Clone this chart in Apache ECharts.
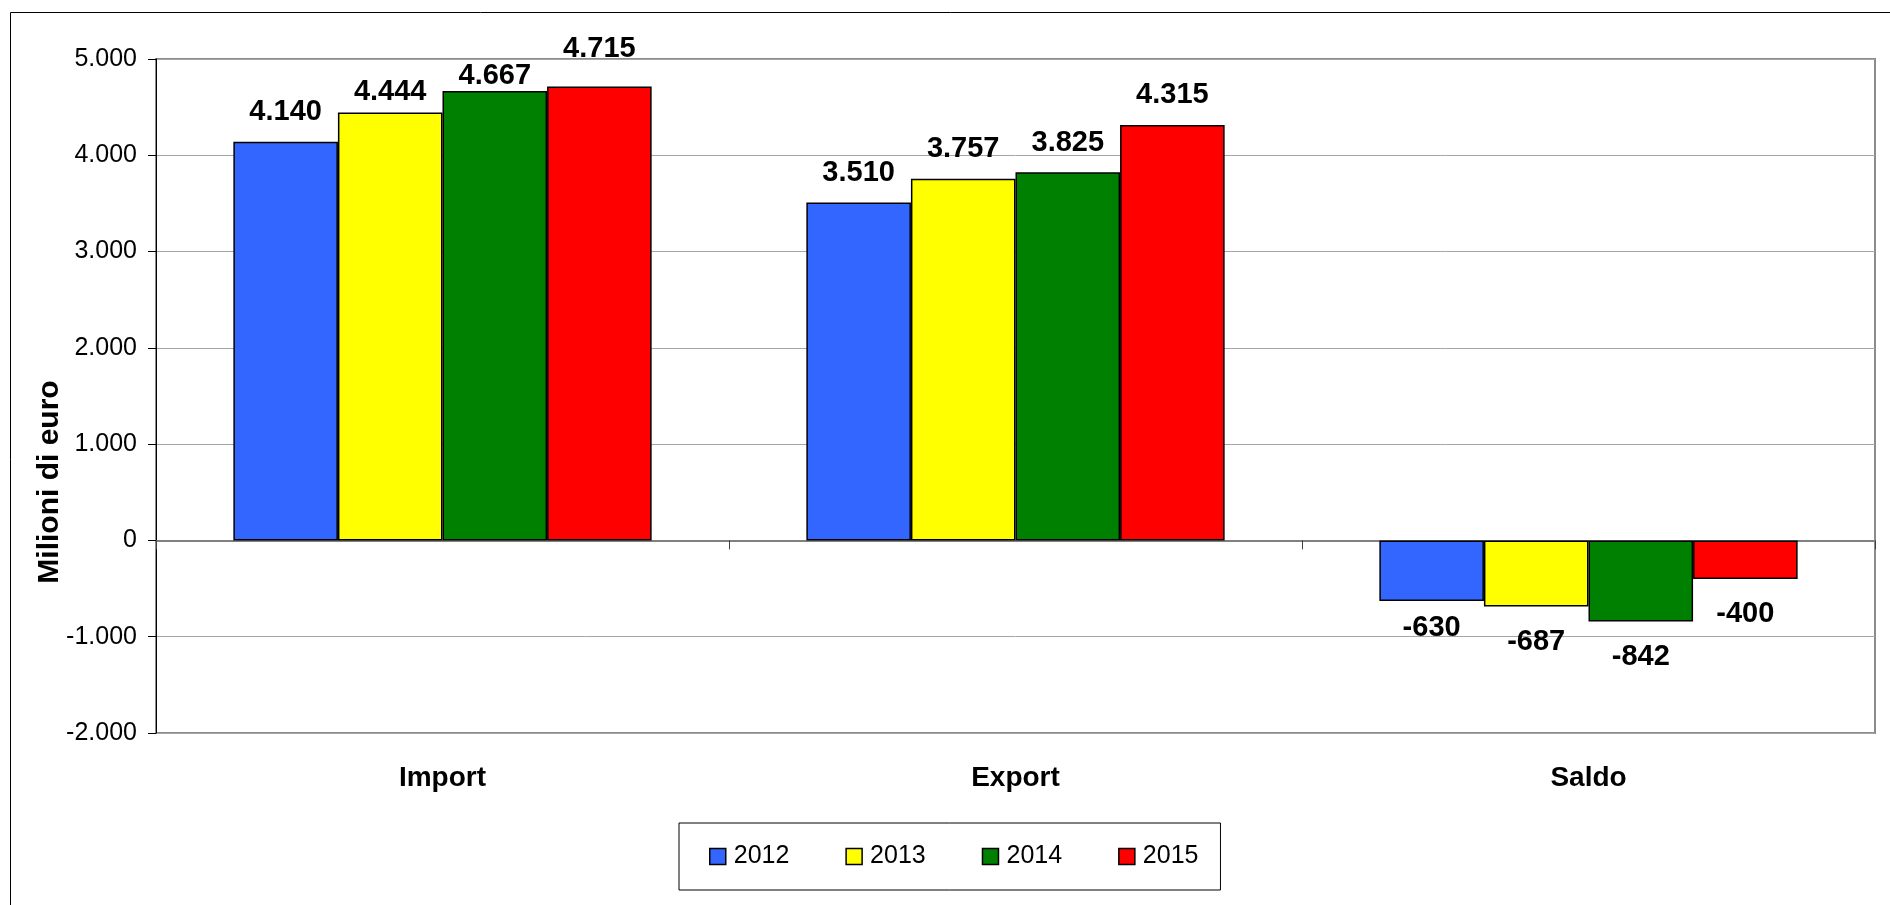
<!DOCTYPE html>
<html>
<head>
<meta charset="utf-8">
<script src="https://cdn.jsdelivr.net/npm/echarts@6/dist/echarts.min.js"></script>
<style>
html,body{margin:0;padding:0;background:#fff;}
#chart{width:1890px;height:905px;}
</style>
</head>
<body>
<div id="chart"></div>
<script>
const categories = ['Import', 'Export', 'Saldo'];
const years = ['2012', '2013', '2014', '2015'];
const values2012 = [4140, 3510, -630];
const values2013 = [4444, 3757, -687];
const values2014 = [4667, 3825, -842];
const values2015 = [4715, 4315, -400];
const yMin = -2000, yMax = 5000, yStep = 1000;
const axisTitle = 'Milioni di euro';

const seriesValues = [values2012, values2013, values2014, values2015];
const colors = ['#3366FF', '#FFFF00', '#008000', '#FF0000'];
const FONT = "'Liberation Sans', Arial, sans-serif";
const GRID = { left: 156, right: 15, top: 59, bottom: 172 };
const CHART_H = 905;
// label nudges (pixels) to mimic the reference placement
const labelNudge = { '1-0': 9, '2-0': 14, '3-0': -8, '0-2': -9 };

function fmt(v) {
  const s = Math.abs(v).toString().replace(/\B(?=(\d{3})+(?!\d))/g, '.');
  return (v < 0 ? '-' : '') + s;
}

const gridH = CHART_H - GRID.top - GRID.bottom;
const zeroFromTop = gridH * (yMax - 0) / (yMax - yMin);

const series = seriesValues.map((vals, si) => ({
  name: years[si],
  type: 'bar',
  xAxisIndex: 0,
  barGap: '0%',
  barCategoryGap: '27%',
  itemStyle: { color: colors[si], borderColor: '#000', borderWidth: 1.5 },
  label: {
    show: true,
    position: 'top',
    distance: 15,
    fontFamily: FONT,
    fontSize: 29,
    fontWeight: 'bold',
    color: '#000',
    formatter: p => fmt(p.value)
  },
  data: vals.map((v, ci) => {
    const nudge = labelNudge[si + '-' + ci] || 0;
    const item = { value: v };
    if (v < 0) {
      item.label = { position: 'bottom', distance: 21, offset: [0, nudge] };
    } else if (nudge) {
      item.label = { offset: [0, nudge] };
    }
    return item;
  })
}));

const chart = echarts.init(document.getElementById('chart'), null, { renderer: 'canvas' });
chart.setOption({
  animation: false,
  backgroundColor: '#fff',
  textStyle: { fontFamily: FONT },
  grid: {
    left: GRID.left, right: GRID.right, top: GRID.top, bottom: GRID.bottom,
    show: true, borderColor: '#8c8c8c', borderWidth: 2, backgroundColor: 'transparent'
  },
  legend: {
    data: years,
    left: 679,
    top: 823,
    orient: 'horizontal',
    padding: [21, 22, 21, 30],
    borderColor: '#000',
    borderWidth: 1,
    itemWidth: 16,
    itemHeight: 16,
    itemGap: 56,
    icon: 'rect',
    itemStyle: { borderColor: '#000', borderWidth: 1.5 },
    textStyle: { fontFamily: FONT, fontSize: 25, color: '#000', padding: [0, 0, 0, 3] }
  },
  xAxis: [
    {
      type: 'category',
      data: categories,
      position: 'bottom',
      axisLine: { show: false, onZero: false },
      axisTick: { show: false },
      splitLine: { show: false },
      axisLabel: { fontFamily: FONT, fontSize: 28, fontWeight: 'bold', color: '#000', margin: 31 }
    },
    {
      type: 'category',
      data: categories,
      position: 'top',
      offset: -zeroFromTop,
      axisLine: { show: true, onZero: false, lineStyle: { color: '#808080', width: 2 } },
      axisTick: { show: true, inside: true, length: 9, lineStyle: { color: '#404040', width: 1 } },
      axisLabel: { show: false },
      splitLine: { show: false }
    }
  ],
  yAxis: {
    type: 'value',
    min: yMin,
    max: yMax,
    interval: yStep,
    axisLine: { show: true, onZero: false, lineStyle: { color: '#000', width: 1 } },
    axisTick: { show: true, length: 8, lineStyle: { color: '#000', width: 1 } },
    axisLabel: { fontFamily: FONT, fontSize: 25, color: '#000', margin: 19, formatter: v => fmt(v) },
    splitLine: { show: true, lineStyle: { color: '#a6a6a6', width: 1 } }
  },
  graphic: [
    {
      type: 'rect',
      shape: { x: 10.5, y: 12.5, width: 2000, height: 2000 },
      style: { fill: 'none', stroke: '#000', lineWidth: 1 },
      silent: true,
      z: -10
    },
    {
      type: 'text',
      x: 50,
      y: 482,
      rotation: Math.PI / 2,
      style: {
        text: axisTitle,
        fontFamily: FONT,
        fontSize: 30,
        fontWeight: 'bold',
        fill: '#000',
        align: 'center',
        verticalAlign: 'middle'
      }
    }
  ],
  series: series
});
</script>
</body>
</html>
